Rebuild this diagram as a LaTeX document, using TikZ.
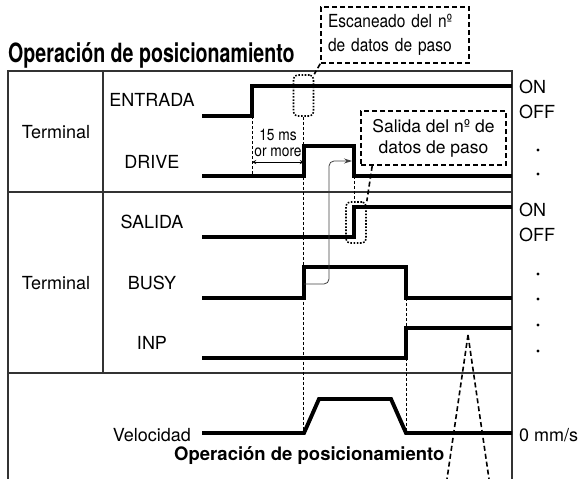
\documentclass[tikz,border=0pt]{standalone}
\usepackage{fontspec}
\setmainfont{TeX Gyre Heros}
\newfontfamily\condfont[FakeStretch=0.86]{TeX Gyre Heros}
\newfontfamily\narrowfont[FakeStretch=0.74]{TeX Gyre Heros}
\usetikzlibrary{arrows.meta}

\tikzset{
  sig/.style={line width=3.9pt},
  rule/.style={line width=1.1pt, draw=black!80},
  guide/.style={line width=1pt, dash pattern=on 3pt off 2pt},
  callout/.style={draw, line width=1.6pt, dash pattern=on 5pt off 3pt, inner sep=0pt},
  scanbox/.style={draw, line width=1.6pt, dash pattern=on 1.6pt off 1.6pt, rounded corners=4pt, inner sep=0pt, minimum width=20pt, minimum height=41pt},
  lbl/.style={inner sep=0pt, font=\fontsize{18}{22}\selectfont},
}

\begin{document}
\begin{tikzpicture}[x=1pt, y=-1pt, >=stealth]
    \useasboundingbox (0,0) rectangle (581,479);

    % Title
    \node[anchor=base west, inner sep=0pt, font=\narrowfont\fontsize{26.5}{30}\selectfont\bfseries] (title) at (8,62) {Operación de posicionamiento};

    % Table
    \draw[rule] (8,479) -- (8,71) -- (512,71) -- (512,479);
    \draw[rule] (8,192) -- (512,192);
    \draw[rule] (8,373) -- (512,373);
    \draw[rule] (103,71) -- (103,373);

    % Row labels
    \node[lbl] (termA) at (56,132) {Terminal};
    \node[lbl] (termB) at (56,283) {Terminal};
    \node[lbl] (entrada) at (152,100) {ENTRADA};
    \node[lbl] (drive) at (152,162) {DRIVE};
    \node[lbl] (salida) at (152,222) {SALIDA};
    \node[lbl] (busy) at (152,283) {BUSY};
    \node[lbl] (inp) at (152,343) {INP};
    \node[lbl, anchor=east] (vel) at (191,435) {Velocidad};

    % Levels on the right
    \node[lbl, anchor=west] (onA) at (519,87) {ON};
    \node[lbl, anchor=west] (offA) at (519,112) {OFF};
    \node[lbl, anchor=west] (onB) at (519,210) {ON};
    \node[lbl, anchor=west] (offB) at (519,235) {OFF};
    \node[lbl, anchor=west] (zero) at (519,435) {0 mm/s};
    \foreach \y in {150,174,274,299,325,351}
        \fill (538,\y) circle (1.6pt);

    % Signals
    \draw[sig] (202,116) -- (252,116) -- (252,86) -- (512,86);
    \draw[sig] (202,176) -- (304,176) -- (304,146) -- (354,146) -- (354,176) -- (512,176);
    \draw[sig] (202,237) -- (354,237) -- (354,207) -- (512,207);
    \draw[sig] (202,298) -- (304,298) -- (304,267) -- (406,267) -- (406,298) -- (512,298);
    \draw[sig] (202,358) -- (406,358) -- (406,328) -- (512,328);
    \draw[sig] (202,433) -- (304,433) -- (319,399) -- (391,399) -- (406,433) -- (512,433);

    % Scan boxes and callouts
    \node[scanbox] (scanA) at (303.5,95.5) {};
    \node[scanbox] (scanB) at (356,222.5) {};
    \node[callout, minimum width=148pt, minimum height=56pt, text width=134pt, align=left,
          font=\condfont\fontsize{18}{24}\selectfont] (callA) at (395,35)
          {Escaneado del nº\\de datos de paso};
    \node[callout, minimum width=145pt, minimum height=54pt, align=center,
          font=\fontsize{17.5}{21}\selectfont] (callB) at (433.5,138)
          {Salida del nº de\\datos de paso};
    \draw[line width=1.6pt, dash pattern=on 5pt off 3pt] (callA.south west) -- (scanA.north east);
    \draw[line width=1.6pt, dash pattern=on 5pt off 3pt] ([xshift=12pt]callB.south west) -- (scanB.north east);

    % Timing guides
    \draw[guide] (252,116) -- (252,177);
    \draw[guide] (scanA.south) -- (303.5,433);
    \draw[guide] (354,176) -- (scanB.north -| 354,0);
    \draw[guide] (406,298) -- (406,433);

    % 15 ms or more
    \draw[<->, line width=0.9pt] (252,162) -- (304,162);
    \node[inner sep=0pt, align=center, font=\condfont\fontsize{16}{16}\selectfont] (wait) at (278,143) {15 ms\\or more};

    % BUSY to SALIDA
    \draw[-{Stealth[length=8pt, width=5pt]}, line width=0.8pt, draw=black!75, rounded corners=5pt]
        (304,284) -- (329,284) -- (329,161) -- (352,161);

    % Positioning label
    \node[anchor=base west, inner sep=0pt, font=\fontsize{18.5}{20}\selectfont\bfseries] (oper) at (174,460) {Operación de posicionamiento};
    \coordinate (apex) at (468,335);
    \draw[line width=1.6pt, dash pattern=on 5pt off 3pt] (apex) -- (447,479);
    \draw[line width=1.6pt, dash pattern=on 5pt off 3pt] (apex) -- (489,479);
\end{tikzpicture}
\end{document}
